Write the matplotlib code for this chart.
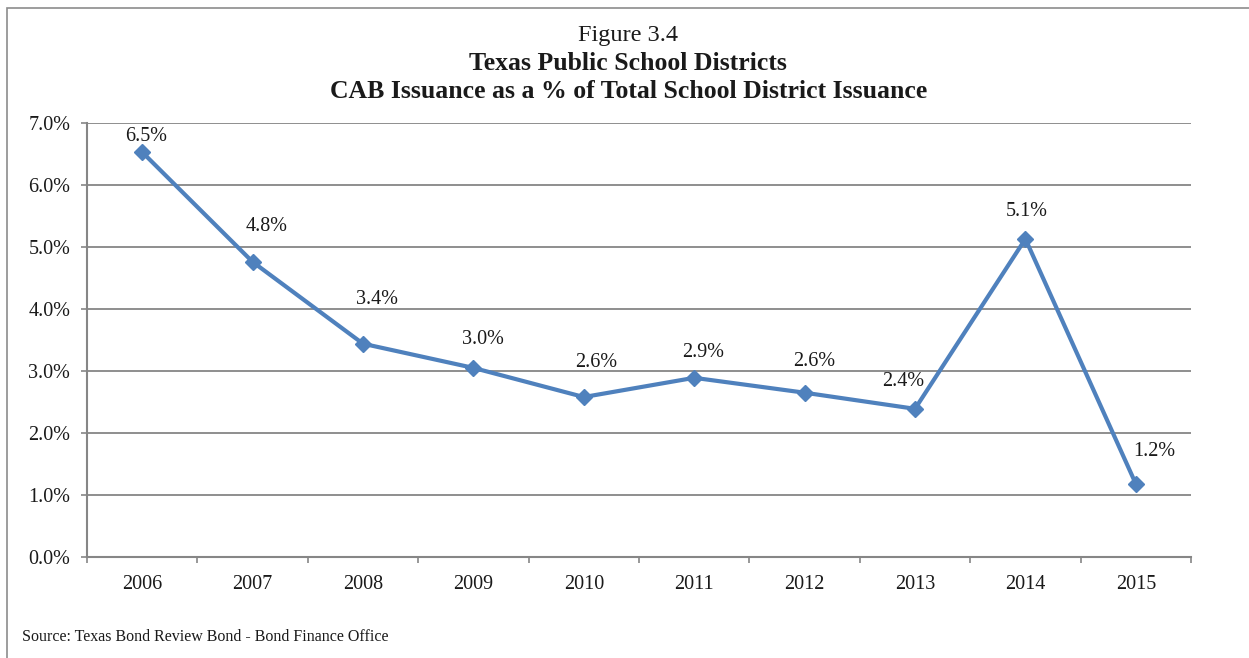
import matplotlib
matplotlib.use("Agg")
import matplotlib.pyplot as plt
from matplotlib.patches import Rectangle
from matplotlib.ticker import FixedLocator, FuncFormatter

plt.rcParams["font.family"] = ["Liberation Serif", "DejaVu Serif"]

years = ["2006", "2007", "2008", "2009", "2010", "2011", "2012", "2013", "2014", "2015"]
cab_share = [6.53, 4.76, 3.44, 3.05, 2.58, 2.89, 2.65, 2.39, 5.13, 1.18]
point_labels = ["6.5%", "4.8%", "3.4%", "3.0%", "2.6%", "2.9%", "2.6%", "2.4%", "5.1%", "1.2%"]

# hand-placed label offsets in pixels (dx, dy) from each marker
label_offsets = [(4, 16), (14, 35), (14, 44), (10, 28), (12, 35),
                 (9, 25), (10, 31), (-12, 27), (1, 27), (18, 32)]

BLUE = "#4f81bd"
GRID = "#868686"
TEXT = "#1a1a1a"

fig = plt.figure(figsize=(12.49, 6.58), dpi=100)
fig.patch.set_facecolor("white")

# outer chart frame, runs off the right and bottom edges
fig.patches.append(Rectangle((7 / 1249, -0.05), 1.2, 1 - 8 / 658 + 0.05,
                             transform=fig.transFigure, fill=False,
                             ec="#8c8c8c", lw=1.2))

ax = fig.add_axes([87 / 1249, 1 - 557 / 658, (1191 - 87) / 1249, (557 - 123) / 658])
x = list(range(len(years)))
ax.plot(x, cab_share, color=BLUE, lw=3, marker="D", ms=8.5, mfc=BLUE, mec=BLUE,
        zorder=3, clip_on=False)

for xi, v, lab, (dx, dy) in zip(x, cab_share, point_labels, label_offsets):
    ax.annotate(lab, (xi, v), xytext=(dx, dy), textcoords="offset pixels",
                ha="center", va="center", fontsize=14.5, color=TEXT)

ax.set_xlim(-0.5, len(years) - 0.5)
ax.set_ylim(0, 7)
ax.yaxis.set_major_locator(FixedLocator(range(0, 8)))
ax.yaxis.set_major_formatter(FuncFormatter(lambda v, _: f"{v:.1f}%"))
ax.grid(axis="y", color=GRID, lw=1.3)
ax.set_axisbelow(True)

ax.set_xticks(x)
ax.set_xticklabels(years)
ax.set_xticks([i - 0.5 for i in range(len(years) + 1)], minor=True)
ax.tick_params(axis="x", which="major", length=0, pad=13, labelsize=14.5, colors=TEXT)
ax.tick_params(axis="x", which="minor", length=4, width=1.2, color=GRID)
ax.tick_params(axis="y", length=4, width=1.2, color=GRID, pad=8, labelsize=14.5,
               labelcolor=TEXT)

for side in ("top", "right"):
    ax.spines[side].set_visible(False)
for side in ("left", "bottom"):
    ax.spines[side].set_color(GRID)
    ax.spines[side].set_linewidth(1.5)

fig.text(0.503, 1 - 35 / 658, "Figure 3.4", ha="center", va="center",
         fontsize=17.5, color=TEXT)
fig.text(0.503, 1 - 63 / 658, "Texas Public School Districts", ha="center",
         va="center", fontsize=18.5, fontweight="bold", color=TEXT)
fig.text(0.503, 1 - 92 / 658, "CAB Issuance as a % of Total School District Issuance",
         ha="center", va="center", fontsize=18.5, fontweight="bold", color=TEXT)
fig.text(22 / 1249, 1 - 637 / 658, "Source: Texas Bond Review Bond - Bond Finance Office",
         ha="left", va="center", fontsize=11.5, color=TEXT)

fig.savefig("out.png", dpi=100, facecolor="white")
